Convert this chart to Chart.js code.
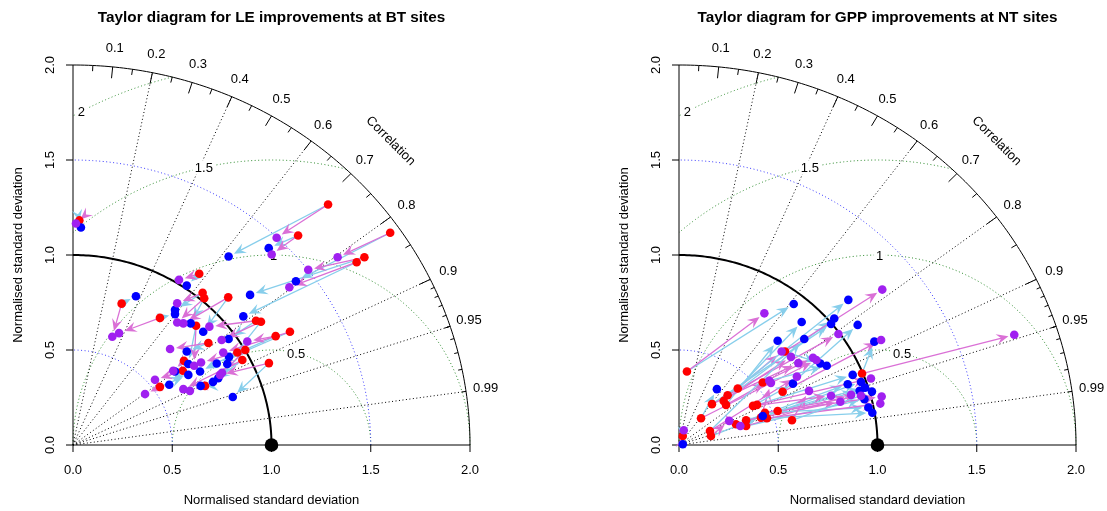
<!DOCTYPE html>
<html>
<head>
<meta charset="utf-8">
<script src="https://cdn.jsdelivr.net/npm/chart.js@4/dist/chart.umd.min.js"></script>
<style>
  html, body { margin: 0; padding: 0; background: #fff; }
  #wrap { position: relative; width: 1107px; height: 511px; }
  canvas { position: absolute; top: 0; }
  #leChart { left: 0; }
  #gppChart { left: 553px; }
</style>
</head>
<body>
<div id="wrap">
  <canvas id="leChart" width="553" height="511"></canvas>
  <canvas id="gppChart" width="554" height="511"></canvas>
</div>
<script>
// Axis / grid values
const SD_TICKS = [0, 0.5, 1, 1.5, 2];
const SD_TICK_LABELS = ['0.0', '0.5', '1.0', '1.5', '2.0'];
const SD_ARCS = [0.5, 1, 1.5];
const CORR_LABELS = [0.1, 0.2, 0.3, 0.4, 0.5, 0.6, 0.7, 0.8, 0.9, 0.95, 0.99];
const CORR_BIG = [0.1, 0.2, 0.3, 0.4, 0.5, 0.6, 0.7, 0.8, 0.9];
const CORR_MED = [0.05, 0.15, 0.25, 0.35, 0.45, 0.55, 0.65, 0.75, 0.85, 0.95];
const CORR_SMALL = [0.91, 0.92, 0.93, 0.94, 0.95, 0.96, 0.97, 0.98, 0.99];
const CORR_RAYS = [0.2, 0.4, 0.6, 0.8, 0.9, 0.95, 0.99];
const GAMMA = [0.5, 1, 1.5, 2];
const GAMMA_LABEL_ANGLE = [1.32, 1.56, 1.80, 2.07];

// LE at BT sites: baseline (red), improvement 1 (blue), improvement 2 (purple)
const leRedX = [1.285, 1.134, 1.598, 1.468, 1.429, 0.636, 0.245, 0.438, 0.653, 0.661, 0.782, 0.922, 0.947, 1.021, 1.093, 0.620, 0.682, 0.828, 0.868, 0.853, 0.559, 0.553, 0.438, 0.665, 0.987, 0.032];
const leRedY = [1.266, 1.103, 1.117, 0.988, 0.962, 0.901, 0.744, 0.669, 0.801, 0.772, 0.777, 0.654, 0.649, 0.573, 0.596, 0.628, 0.537, 0.487, 0.500, 0.447, 0.443, 0.391, 0.306, 0.311, 0.431, 1.182];
const leBlueX = [0.784, 0.986, 1.123, 0.892, 0.858, 0.573, 0.317, 0.514, 0.514, 0.593, 0.656, 0.784, 0.777, 0.786, 0.724, 0.581, 0.573, 0.640, 0.732, 0.705, 0.514, 0.485, 0.581, 0.643, 0.805, 0.040];
const leBlueY = [0.992, 1.036, 0.862, 0.790, 0.677, 0.839, 0.783, 0.689, 0.711, 0.640, 0.596, 0.558, 0.426, 0.464, 0.429, 0.426, 0.492, 0.387, 0.352, 0.332, 0.387, 0.317, 0.369, 0.311, 0.253, 1.145];
const lePurpleX = [1.026, 1.001, 1.333, 1.185, 1.090, 0.534, 0.198, 0.232, 0.525, 0.525, 0.556, 0.687, 0.749, 0.878, 0.757, 0.610, 0.489, 0.645, 0.751, 0.556, 0.505, 0.413, 0.363, 0.589, 0.741, 0.015];
const lePurpleY = [1.091, 1.003, 0.988, 0.922, 0.830, 0.869, 0.570, 0.589, 0.746, 0.645, 0.640, 0.623, 0.553, 0.545, 0.487, 0.417, 0.505, 0.434, 0.380, 0.294, 0.390, 0.343, 0.268, 0.285, 0.369, 1.166];

// GPP at NT sites
const gppRedX = [0.040, 0.296, 0.245, 0.225, 0.237, 0.166, 0.111, 0.156, 0.161, 0.287, 0.338, 0.338, 0.393, 0.433, 0.443, 0.497, 0.569, 0.522, 0.922, 0.019, 0.534, 0.422, 0.413, 0.373];
const gppRedY = [0.387, 0.297, 0.262, 0.232, 0.211, 0.215, 0.141, 0.074, 0.047, 0.109, 0.130, 0.100, 0.211, 0.170, 0.141, 0.179, 0.130, 0.280, 0.376, 0.047, 0.492, 0.329, 0.144, 0.206];
const gppBlueX = [0.578, 0.618, 0.853, 0.782, 0.497, 0.766, 0.191, 0.631, 0.422, 0.850, 0.910, 0.934, 0.875, 0.954, 0.974, 0.937, 0.972, 0.900, 0.984, 0.019, 0.712, 0.744, 0.917, 0.574];
const gppBlueY = [0.742, 0.647, 0.764, 0.666, 0.549, 0.637, 0.294, 0.558, 0.153, 0.320, 0.285, 0.241, 0.369, 0.197, 0.170, 0.302, 0.281, 0.632, 0.544, 0.004, 0.429, 0.417, 0.332, 0.323];
const gppPurpleX = [0.430, 0.517, 0.803, 0.564, 0.455, 0.601, 0.692, 0.594, 0.253, 0.309, 0.813, 0.867, 0.967, 0.917, 1.014, 1.021, 0.655, 1.018, 1.689, 0.024, 1.024, 0.675, 0.463, 0.766];
const gppPurpleY = [0.693, 0.492, 0.584, 0.464, 0.338, 0.431, 0.447, 0.360, 0.127, 0.100, 0.228, 0.264, 0.350, 0.259, 0.218, 0.255, 0.285, 0.553, 0.580, 0.078, 0.818, 0.459, 0.327, 0.259];

const FONT = '"Liberation Sans", Arial, Helvetica, sans-serif';

function toPoints(xs, ys) {
    return xs.map((x, i) => ({ x: x, y: ys[i] }));
}

// Grid, axes and labels of the Taylor diagram
function drawTaylorGrid(chart) {
    const ctx = chart.ctx;
    const xs = chart.scales.x, ys = chart.scales.y;
    const ca = chart.chartArea;
    const X = v => xs.getPixelForValue(v);
    const Y = v => ys.getPixelForValue(v);
    const maxSd = xs.max;

    function curve(fn, t0, t1, n) {
        ctx.beginPath();
        for (let i = 0; i <= n; i++) {
            const t = t0 + (t1 - t0) * i / n;
            const p = fn(t);
            if (i === 0) ctx.moveTo(X(p[0]), Y(p[1]));
            else ctx.lineTo(X(p[0]), Y(p[1]));
        }
        ctx.stroke();
    }

    ctx.save();
    ctx.lineWidth = 1;
    ctx.setLineDash([1, 2.5]);

    // centred RMS difference arcs around the reference point
    ctx.strokeStyle = '#2e8b2e';
    GAMMA.forEach(g => {
        const t0 = Math.acos(Math.min(1, (maxSd * maxSd - 1 - g * g) / (2 * g)));
        const t1 = Math.acos(Math.max(-1, -1 / g));
        curve(t => [1 + g * Math.cos(t), g * Math.sin(t)], t0, t1, 150);
    });

    // standard deviation arcs
    ctx.strokeStyle = '#3a3aff';
    SD_ARCS.forEach(r => curve(t => [r * Math.cos(t), r * Math.sin(t)], 0, Math.PI / 2, 120));

    // correlation rays
    ctx.strokeStyle = '#000';
    CORR_RAYS.forEach(c => {
        const s = Math.sqrt(1 - c * c);
        ctx.beginPath();
        ctx.moveTo(X(0), Y(0));
        ctx.lineTo(X(maxSd * c), Y(maxSd * s));
        ctx.stroke();
    });
    ctx.setLineDash([]);

    // gamma labels on white boxes
    ctx.font = '13px ' + FONT;
    ctx.textAlign = 'center';
    ctx.textBaseline = 'middle';
    GAMMA.forEach((g, i) => {
        const a = GAMMA_LABEL_ANGLE[i];
        const gx = X(1 + g * Math.cos(a)), gy = Y(g * Math.sin(a));
        const w = ctx.measureText(String(g)).width;
        ctx.fillStyle = '#fff';
        ctx.fillRect(gx - w / 2 - 2, gy - 7, w + 4, 14);
        ctx.fillStyle = '#000';
        ctx.fillText(String(g), gx, gy + 1);
    });

    // reference arc and outer arc
    ctx.strokeStyle = '#000';
    ctx.lineWidth = 2;
    curve(t => [Math.cos(t), Math.sin(t)], 0, Math.PI / 2, 120);
    ctx.lineWidth = 1;
    curve(t => [maxSd * Math.cos(t), maxSd * Math.sin(t)], 0, Math.PI / 2, 160);

    // correlation tick marks
    function tick(c, inner) {
        const s = Math.sqrt(1 - c * c);
        ctx.beginPath();
        ctx.moveTo(X(maxSd * c), Y(maxSd * s));
        ctx.lineTo(X(inner * maxSd * c), Y(inner * maxSd * s));
        ctx.stroke();
    }
    CORR_BIG.forEach(c => tick(c, 0.97));
    CORR_MED.forEach(c => tick(c, 0.985));
    CORR_SMALL.forEach(c => tick(c, 0.99));

    // axes lines
    ctx.beginPath();
    ctx.moveTo(X(0), Y(maxSd));
    ctx.lineTo(X(0), Y(0));
    ctx.lineTo(X(maxSd), Y(0));
    ctx.stroke();
    SD_TICKS.forEach(v => {
        ctx.beginPath();
        ctx.moveTo(X(0) - 7, Y(v));
        ctx.lineTo(X(0), Y(v));
        ctx.moveTo(X(v), Y(0));
        ctx.lineTo(X(v), Y(0) + 7);
        ctx.stroke();
    });

    // tick labels
    ctx.fillStyle = '#000';
    ctx.font = '13px ' + FONT;
    SD_TICKS.forEach((v, i) => {
        ctx.textAlign = 'center';
        ctx.textBaseline = 'middle';
        ctx.fillText(SD_TICK_LABELS[i], X(v), Y(0) + 25);
        ctx.save();
        ctx.translate(X(0) - 23, Y(v));
        ctx.rotate(-Math.PI / 2);
        ctx.fillText(SD_TICK_LABELS[i], 0, 0);
        ctx.restore();
    });

    // correlation labels
    CORR_LABELS.forEach(c => {
        const s = Math.sqrt(1 - c * c);
        ctx.fillText(String(c), X(1.05 * maxSd * c), Y(1.05 * maxSd * s));
    });
    ctx.save();
    ctx.translate(X(0.8 * maxSd), Y(0.8 * maxSd));
    ctx.rotate(Math.PI / 4);
    ctx.fillText('Correlation', 0, 0);
    ctx.restore();

    // axis titles
    const midX = (ca.left + ca.right) / 2;
    const midY = (ca.top + ca.bottom) / 2;
    ctx.fillText('Normalised standard deviation', midX, ca.bottom + 55);
    ctx.save();
    ctx.translate(ca.left - 55, midY);
    ctx.rotate(-Math.PI / 2);
    ctx.fillText('Normalised standard deviation', 0, 0);
    ctx.restore();

    // main title
    ctx.font = 'bold 15.3px ' + FONT;
    ctx.fillText(chart.options.plugins.taylor.title, midX, ca.top - 47);
    ctx.restore();
}

// Arrows from the baseline point to each improved point
function drawArrows(chart) {
    const ctx = chart.ctx;
    const xs = chart.scales.x, ys = chart.scales.y;
    const d = chart.data.datasets;
    const red = d[3].data, blue = d[2].data, purple = d[1].data;

    function arrow(a, b, color) {
        const x0 = xs.getPixelForValue(a.x), y0 = ys.getPixelForValue(a.y);
        const x1 = xs.getPixelForValue(b.x), y1 = ys.getPixelForValue(b.y);
        const dx = x1 - x0, dy = y1 - y0;
        const len = Math.hypot(dx, dy);
        if (len < 0.5) return;
        const ux = dx / len, uy = dy / len;
        const tx = x1 - ux * 6, ty = y1 - uy * 6;
        ctx.strokeStyle = color;
        ctx.fillStyle = color;
        ctx.lineWidth = 1.3;
        ctx.beginPath();
        ctx.moveTo(x0, y0);
        ctx.lineTo(tx - ux * 5, ty - uy * 5);
        ctx.stroke();
        ctx.beginPath();
        ctx.moveTo(tx, ty);
        ctx.lineTo(tx - ux * 12 - uy * 5.2, ty - uy * 12 + ux * 5.2);
        ctx.lineTo(tx - ux * 7.5, ty - uy * 7.5);
        ctx.lineTo(tx - ux * 12 + uy * 5.2, ty - uy * 12 - ux * 5.2);
        ctx.closePath();
        ctx.fill();
    }

    ctx.save();
    red.forEach((r, i) => {
        arrow(r, blue[i], '#87ceeb');
        arrow(r, purple[i], '#da70d6');
    });
    ctx.restore();
}

const taylorPlugin = {
    id: 'taylor',
    beforeDatasetsDraw(chart) {
        drawTaylorGrid(chart);
        drawArrows(chart);
    }
};

function makeTaylor(canvasId, title, padding, redX, redY, blueX, blueY, purpleX, purpleY) {
    const pointStyle = (color, r) => ({
        backgroundColor: color,
        borderWidth: 0,
        pointRadius: r,
        pointHoverRadius: r,
        clip: false
    });
    return new Chart(document.getElementById(canvasId), {
        type: 'scatter',
        data: {
            datasets: [
                Object.assign({ label: 'Reference', data: [{ x: 1, y: 0 }] }, pointStyle('#000', 6.8)),
                Object.assign({ label: 'Improvement 2', data: toPoints(purpleX, purpleY) }, pointStyle('#a020f0', 4.3)),
                Object.assign({ label: 'Improvement 1', data: toPoints(blueX, blueY) }, pointStyle('#0000ff', 4.3)),
                Object.assign({ label: 'Baseline', data: toPoints(redX, redY) }, pointStyle('#ff0000', 4.3))
            ]
        },
        options: {
            responsive: false,
            animation: false,
            events: [],
            layout: { padding: padding },
            plugins: {
                legend: { display: false },
                tooltip: { enabled: false },
                taylor: { title: title }
            },
            scales: {
                x: { type: 'linear', min: 0, max: 2, display: false },
                y: { type: 'linear', min: 0, max: 2, display: false }
            }
        },
        plugins: [taylorPlugin]
    });
}

makeTaylor('leChart', 'Taylor diagram for LE improvements at BT sites',
    { left: 73, right: 83, top: 65, bottom: 66 },
    leRedX, leRedY, leBlueX, leBlueY, lePurpleX, lePurpleY);

makeTaylor('gppChart', 'Taylor diagram for GPP improvements at NT sites',
    { left: 126, right: 31, top: 65, bottom: 66 },
    gppRedX, gppRedY, gppBlueX, gppBlueY, gppPurpleX, gppPurpleY);
</script>
</body>
</html>
